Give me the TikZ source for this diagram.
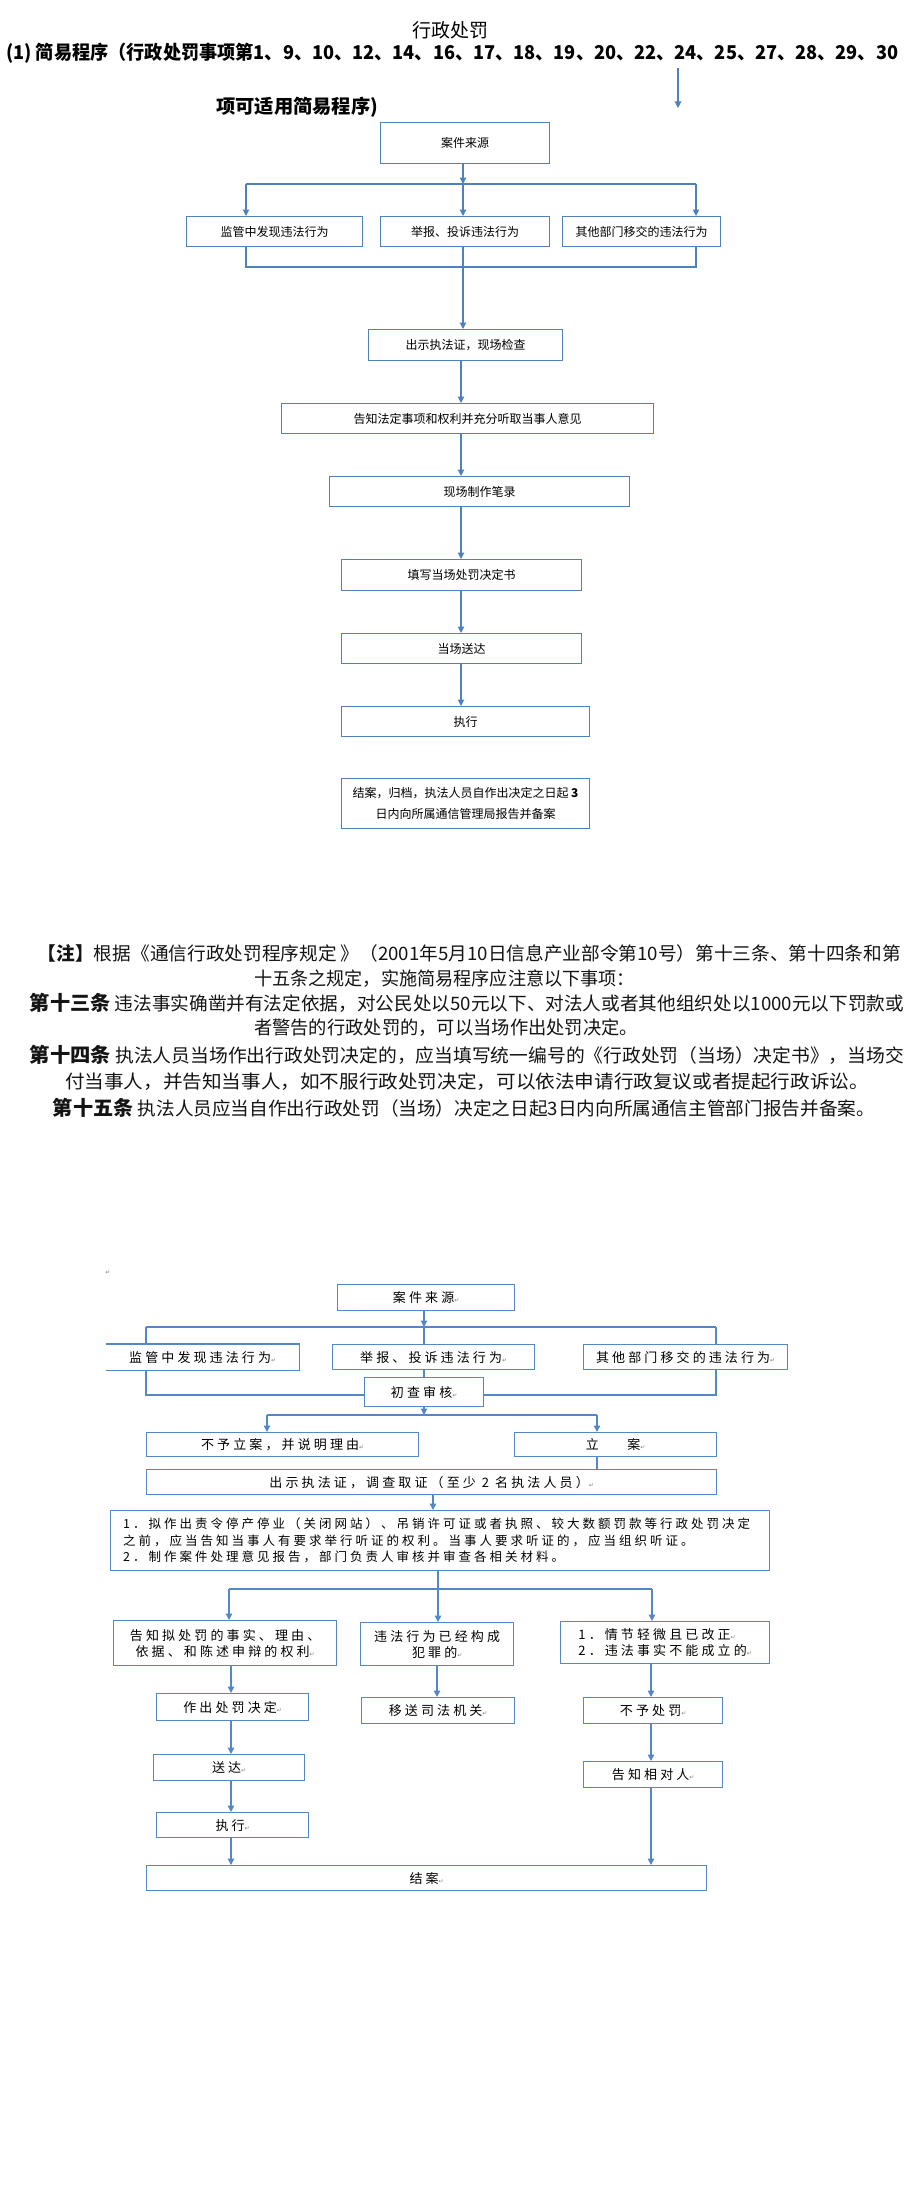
\documentclass[tikz,border=0pt]{standalone}
\usepackage{fontspec}
\usetikzlibrary{arrows.meta,calc}
\newfontfamily\cjk{Noto Sans CJK SC}
\newfontfamily\cjksp[LetterSpace=24]{Noto Sans CJK SC}
\newfontfamily\dejavu{DejaVu Sans}
\definecolor{bl}{RGB}{79,129,189}
\definecolor{bl2}{RGB}{84,135,200}
\definecolor{ink}{RGB}{20,20,20}
\newcommand{\pmk}{{\dejavu\fontsize{6}{6}\selectfont\textcolor{gray}{↵}}}
\newcommand{\fitw}[2]{\resizebox{#1pt}{\height}{#2}}
\begin{document}
\begin{tikzpicture}[x=1pt,y=-1pt,
  wh/.style 2 args={minimum width=#1pt, minimum height=#2pt},
  ubox/.style={draw=bl, line width=1.1pt, inner sep=0pt, anchor=north west, font=\cjk\fontsize{12}{21}\selectfont, align=center},
  lbox/.style={draw=bl2, line width=1.3pt, inner sep=0pt, anchor=north west, font=\cjksp\fontsize{13}{16}\selectfont, align=center},
  uln/.style={draw=bl, line width=1.1pt},
  uarr/.style={draw=bl, line width=1.1pt, -{Triangle[width=6.5pt,length=6.5pt]}},
  lln/.style={draw=bl2, line width=1.3pt},
  larr/.style={draw=bl2, line width=1.3pt, -{Triangle[width=6.5pt,length=6.5pt]}},
  note/.style={font=\cjk\fontsize{18.5}{18.5}\selectfont, text=ink, inner sep=0pt},
  head/.style={font=\cjk\fontsize{19}{19}\selectfont, inner sep=0pt}
]
\useasboundingbox[fill=white] (0,0) rectangle (916,2189);

% ---------- heading ----------
\node[head] (title) at (450,30) {行政处罚};
\node[head, font=\cjk\bfseries\fontsize{19}{19}\selectfont, anchor=west] (sub1) at (6,53) {\fitw{892}{(1) 简易程序（行政处罚事项第1、9、10、12、14、16、17、18、19、20、22、24、25、27、28、29、30}};
\node[head, font=\cjk\bfseries\fontsize{19}{19}\selectfont, anchor=west] (sub2) at (216,107) {\fitw{162}{项可适用简易程序)}};
\coordinate (t1) at (678,68);
\coordinate (t2) at (678,108);
\draw[uarr] (t1) -- (t2);

% ---------- upper chart ----------
\node[ubox, wh={169}{41}] (a) at (380,122) {案件来源};
\node[ubox, wh={176}{30}] (b1) at (186,216) {监管中发现违法行为};
\node[ubox, wh={169}{30}] (b2) at (380,216) {举报、投诉违法行为};
\node[ubox, wh={158}{30}] (b3) at (562,216) {其他部门移交的违法行为};
\node[ubox, wh={194}{31}] (c) at (368,329) {出示执法证，现场检查};
\node[ubox, wh={372}{30}] (d) at (281,403) {告知法定事项和权利并充分听取当事人意见};
\node[ubox, wh={300}{30}] (e) at (329,476) {现场制作笔录};
\node[ubox, wh={240}{31}] (f) at (341,559) {填写当场处罚决定书};
\node[ubox, wh={240}{30}] (g) at (341,633) {当场送达};
\node[ubox, wh={248}{30}] (h) at (341,706) {执行};
\node[ubox, wh={248}{50}] (i) at (341,778) {结案，归档，执法人员自作出决定之日起 {\bfseries 3}\\日内向所属通信管理局报告并备案};

\coordinate (xm) at (463,0);
\coordinate (u1l) at (246,184);
\coordinate (u1r) at (696,184);
\coordinate (u2l) at (246,267);
\coordinate (u2r) at (696,267);
\draw[uarr] (a.south-|xm) -- (xm|-u1l);
\draw[uln] (u1l) -- (u1r);
\draw[uarr] (u1l) -- (b1.north-|u1l);
\draw[uarr] (xm|-u1l) -- (b2.north-|xm);
\draw[uarr] (u1r) -- (b3.north-|u1r);
\draw[uln] (b1.south-|u2l) -- (u2l) -- (u2r) -- (b3.south-|u2r);
\draw[uarr] (b2.south-|xm) -- (c.north-|xm);
\coordinate (xn) at (461,0);
\draw[uarr] (c.south-|xn) -- (d.north-|xn);
\draw[uarr] (d.south-|xn) -- (e.north-|xn);
\draw[uarr] (e.south-|xn) -- (f.north-|xn);
\draw[uarr] (f.south-|xn) -- (g.north-|xn);
\draw[uarr] (g.south-|xn) -- (h.north-|xn);

% ---------- notes ----------
\node[note] (n1) at (469.5,953) {\fitw{863}{{\bfseries 【注】}根据《通信行政处罚程序规定 》（2001年5月10日信息产业部令第10号）第十三条、第十四条和第}};
\node[note] (n2) at (444.5,979) {\fitw{381}{十五条之规定，实施简易程序应注意以下事项：}};
\node[note] (n3) at (467,1003) {\fitw{874}{{\bfseries\fontsize{20}{20}\selectfont 第十三条} 违法事实确凿并有法定依据，对公民处以50元以下、对法人或者其他组织处以1000元以下罚款或}};
\node[note] (n4) at (446,1028) {\fitw{384}{者警告的行政处罚的，可以当场作出处罚决定。}};
\node[note] (n5) at (467,1055) {\fitw{874}{{\bfseries\fontsize{20}{20}\selectfont 第十四条} 执法人员当场作出行政处罚决定的，应当填写统一编号的《行政处罚（当场）决定书》，当场交}};
\node[note] (n6) at (467,1082) {\fitw{804}{付当事人，并告知当事人，如不服行政处罚决定，可以依法申请行政复议或者提起行政诉讼。}};
\node[note] (n7) at (464,1108) {\fitw{822}{{\bfseries\fontsize{20}{20}\selectfont 第十五条} 执法人员应当自作出行政处罚（当场）决定之日起3日内向所属通信主管部门报告并备案。}};

% ---------- lower chart ----------
\node[inner sep=0pt] (pm0) at (108,1273) {\pmk};
\node[lbox, wh={177}{26}] (A) at (337,1284) {案件来源\pmk};
\node[lbox, draw=none, wh={192}{25}] (B1) at (106,1344) {监管中发现违法行为\pmk};
\draw[lln] (B1.north west) -- (B1.north east) -- (B1.south east) -- (B1.south west);
\node[lbox, wh={202}{25}] (B2) at (332,1344) {举报、投诉违法行为\pmk};
\node[lbox, wh={204}{25}] (B3) at (583,1344) {其他部门移交的违法行为\pmk};
\node[lbox, wh={119}{29}] (C) at (364,1377) {初查审核\pmk};
\node[lbox, wh={272}{24}] (D1) at (146,1432) {不予立案，并说明理由\pmk};
\node[lbox, wh={202}{24}] (D2) at (514,1432) {立\hspace{2.2em}案\pmk};
\node[lbox, wh={570}{25}] (E) at (146,1469) {出示执法证，调查取证（至少 2 名执法人员）\pmk};
\node[lbox, wh={659}{60}] (F) at (110,1510) {};
\node[anchor=west, align=left, inner sep=0pt, font=\cjksp\fontsize{12.5}{16.5}\selectfont] (Ft) at ([xshift=13pt]F.west) {1．拟作出责令停产停业（关闭网站）、吊销许可证或者执照、较大数额罚款等行政处罚决定\\之前，应当告知当事人有要求举行听证的权利。当事人要求听证的，应当组织听证。\\2．制作案件处理意见报告，部门负责人审核并审查各相关材料。};
\node[lbox, wh={223}{45}] (G1) at (113,1620) {告知拟处罚的事实、理由、\\依据、和陈述申辩的权利\pmk};
\node[lbox, wh={153}{43}] (G2) at (360,1622) {违法行为已经构成\\犯罪的\pmk};
\node[lbox, wh={209}{42}, align=left] (G3) at (560,1621) {1．情节轻微且已改正\pmk\\2．违法事实不能成立的\pmk};
\node[lbox, wh={152}{27}] (H1) at (156,1693) {作出处罚决定\pmk};
\node[lbox, wh={153}{26}] (H2) at (361,1697) {移送司法机关\pmk};
\node[lbox, wh={139}{26}] (H3) at (583,1697) {不予处罚\pmk};
\node[lbox, wh={151}{26}] (I1) at (153,1754) {送达\pmk};
\node[lbox, wh={139}{26}] (I3) at (583,1761) {告知相对人\pmk};
\node[lbox, wh={152}{25}] (J1) at (156,1812) {执行\pmk};
\node[lbox, wh={560}{25}] (K) at (146,1865) {结案\pmk};

\coordinate (xA) at (424,0);
\coordinate (b1l) at (146,1327);
\coordinate (b1r) at (716,1327);
\draw[larr] (A.south-|xA) -- (xA|-b1l);
\draw[lln] (b1l) -- (b1r);
\draw[lln] (b1l) -- (B1.north-|b1l);
\draw[lln] (xA|-b1l) -- (B2.north-|xA);
\draw[lln] (b1r) -- (B3.north-|b1r);
\draw[lln] (B2.south-|xA) -- (C.north-|xA);
\coordinate (c1l) at (146,1395);
\coordinate (c1r) at (716,1395);
\draw[lln] (B1.south-|c1l) -- (c1l) -- (C.west|-c1l);
\draw[lln] (B3.south-|c1r) -- (c1r) -- (C.east|-c1r);
\coordinate (b2l) at (267,1415);
\coordinate (b2r) at (597,1415);
\draw[larr] (C.south-|xA) -- (xA|-b2l);
\draw[lln] (b2l) -- (b2r);
\draw[larr] (b2l) -- (D1.north-|b2l);
\draw[larr] (b2r) -- (D2.north-|b2r);
\draw[lln] (D2.south-|b2r) -- (E.north-|b2r);
\coordinate (xE) at (433,0);
\draw[larr] (E.south-|xE) -- (F.north-|xE);
\coordinate (b3l) at (229,1589);
\coordinate (b3m) at (438,1589);
\coordinate (b3r) at (652,1589);
\draw[lln] (F.south-|b3m) -- (b3m);
\draw[lln] (b3l) -- (b3r);
\draw[larr] (b3l) -- (G1.north-|b3l);
\draw[larr] (b3m) -- (G2.north-|b3m);
\draw[larr] (b3r) -- (G3.north-|b3r);
\coordinate (xL) at (231,0);
\coordinate (xM) at (437,0);
\coordinate (xR) at (651,0);
\draw[larr] (G1.south-|xL) -- (H1.north-|xL);
\draw[larr] (H1.south-|xL) -- (I1.north-|xL);
\draw[larr] (I1.south-|xL) -- (J1.north-|xL);
\draw[larr] (J1.south-|xL) -- (K.north-|xL);
\draw[larr] (G2.south-|xM) -- (H2.north-|xM);
\draw[larr] (G3.south-|xR) -- (H3.north-|xR);
\draw[larr] (H3.south-|xR) -- (I3.north-|xR);
\draw[larr] (I3.south-|xR) -- (K.north-|xR);
\end{tikzpicture}
\end{document}
